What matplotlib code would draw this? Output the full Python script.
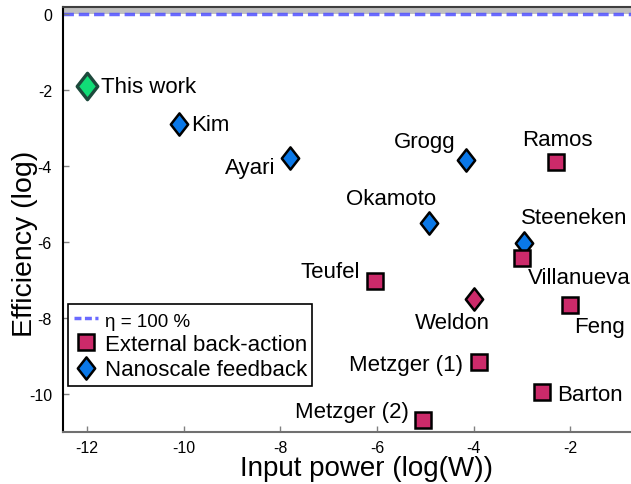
import matplotlib
matplotlib.use("Agg")
import matplotlib.pyplot as plt
from matplotlib.path import Path
from matplotlib.lines import Line2D

plt.rcParams['font.family'] = ['Liberation Sans', 'DejaVu Sans']

# ---- data ----
labels = ["This work", "Kim", "Ayari", "Grogg", "Okamoto", "Steeneken",
          "Ramos", "Villanueva", "Teufel", "Weldon", "Feng",
          "Metzger (1)", "Barton", "Metzger (2)"]
power = [-12.0, -10.1, -7.8, -4.15, -4.93, -2.95,
         -2.3, -3.0, -6.05, -4.0, -2.0,
         -3.89, -2.58, -5.05]
efficiency = [-1.9, -2.9, -3.8, -3.84, -5.5, -6.02,
              -3.9, -6.42, -7.02, -7.5, -7.66,
              -9.16, -9.95, -10.68]
shape = ["diamond", "diamond", "diamond", "diamond", "diamond", "diamond",
         "square", "square", "square", "diamond", "square",
         "square", "square", "square"]
group = ["this", "nano", "nano", "nano", "nano", "nano",
         "ext", "ext", "ext", "ext", "ext",
         "ext", "ext", "ext"]
xticks = [-12, -10, -8, -6, -4, -2]
yticks = [0, -2, -4, -6, -8, -10]

# ---- styles ----
colors = {"this": "#11dd77", "nano": "#0a78e8", "ext": "#cc2a6a"}
edges = {"this": "#1d4a3c", "nano": "black", "ext": "black"}
diamond = Path([(0, 1), (0.78, 0), (0, -1), (-0.78, 0), (0, 1)],
               [Path.MOVETO, Path.LINETO, Path.LINETO, Path.LINETO, Path.CLOSEPOLY])
label_offsets = {
    "This work": (14, 0, "left"), "Kim": (12, 0, "left"),
    "Ayari": (-15, -9, "right"), "Grogg": (-11, 18, "right"),
    "Ramos": (2, 23, "center"), "Okamoto": (-38, 25, "center"),
    "Steeneken": (-3, 25, "left"), "Villanueva": (6, -19, "left"),
    "Teufel": (-15, 9, "right"), "Weldon": (-21, -23, "center"),
    "Feng": (4, -21, "left"), "Metzger (1)": (-16, -2, "right"),
    "Barton": (15, -2, "left"), "Metzger (2)": (-14, 8, "right"),
}

W, H = 631, 485
fig = plt.figure(figsize=(W / 100, H / 100), dpi=100)
ax_l, ax_r, ax_b, ax_t = 63, 667, 433, 7.5
ax = fig.add_axes([ax_l / W, 1 - ax_b / H, (ax_r - ax_l) / W, (ax_b - ax_t) / H])
xlim = (-12.5, 0)
ylim = (-11, 0.2)
ax.set_xlim(*xlim)
ax.set_ylim(*ylim)

ax.axhspan(0, ylim[1], color="#c0c0c0", zorder=0, lw=0)
ax.axhline(0, color="#5050ff", alpha=0.85, lw=2.5, ls=(0, (3, 1.4)), zorder=1)

for lab, x, y, s, g in zip(labels, power, efficiency, shape, group):
    if s == "diamond":
        ms = 19 if g == "this" else 16
        mk = diamond
    else:
        ms = 11.5
        mk = "s"
    ax.plot([x], [y], marker=mk, ms=ms, mfc=colors[g], mec=edges[g],
            mew=2.4 if g == "this" else 1.8, ls="none", zorder=3)
    dx, dy, ha = label_offsets[lab]
    ax.annotate(lab, (x, y), xytext=(dx, dy), textcoords="offset pixels",
                ha=ha, va="center", fontsize=16, zorder=4)

ax.set_xticks(xticks)
ax.set_yticks(yticks)
ax.set_xticklabels([str(v) for v in xticks])
ax.set_yticklabels([str(v) for v in yticks])
ax.tick_params(axis="both", direction="in", length=4, width=1, color="#808080",
               labelsize=11.5)
ax.tick_params(axis="x", pad=6)
ax.tick_params(axis="y", pad=8)

ax.spines["right"].set_visible(False)
ax.spines["top"].set_color("#404040")
ax.spines["top"].set_linewidth(1.5)
ax.spines["left"].set_color("black")
ax.spines["left"].set_linewidth(1.5)
ax.spines["bottom"].set_color("#707070")
ax.spines["bottom"].set_linewidth(1.5)

axw = ax_r - ax_l
axh = ax_b - ax_t
ax.set_xlabel("Input power (log(W))", fontsize=20)
ax.xaxis.set_label_coords((366 - ax_l) / axw, (ax_b - 476) / axh)
ax.xaxis.label.set_va("baseline")
ax.set_ylabel("Efficiency (log)", fontsize=20.5)
ax.yaxis.set_label_coords((25.5 - ax_l) / axw, (ax_b - 244) / axh)
ax.yaxis.label.set_va("center")

handles = [
    Line2D([], [], color="#5050ff", alpha=0.85, lw=2.5, ls=(0, (2, 1))),
    Line2D([], [], marker="s", ms=11.5, mfc=colors["ext"], mec="black", mew=1.8, ls="none"),
    Line2D([], [], marker=diamond, ms=16, mfc=colors["nano"], mec="black", mew=1.8, ls="none"),
]
leg = ax.legend(handles, ["η = 100 %", "External back-action", "Nanoscale feedback"],
                loc="lower left",
                bbox_to_anchor=((68 - ax_l) / axw, (ax_b - 387) / axh),
                borderaxespad=0,
                fontsize=16, frameon=True, fancybox=False, edgecolor="black",
                framealpha=1, handlelength=1.1, handletextpad=0.3,
                labelspacing=0.2, borderpad=0.25)
leg.get_frame().set_linewidth(1.2)
leg.get_texts()[0].set_fontsize(13.5)

fig.savefig("out.png", dpi=100)
